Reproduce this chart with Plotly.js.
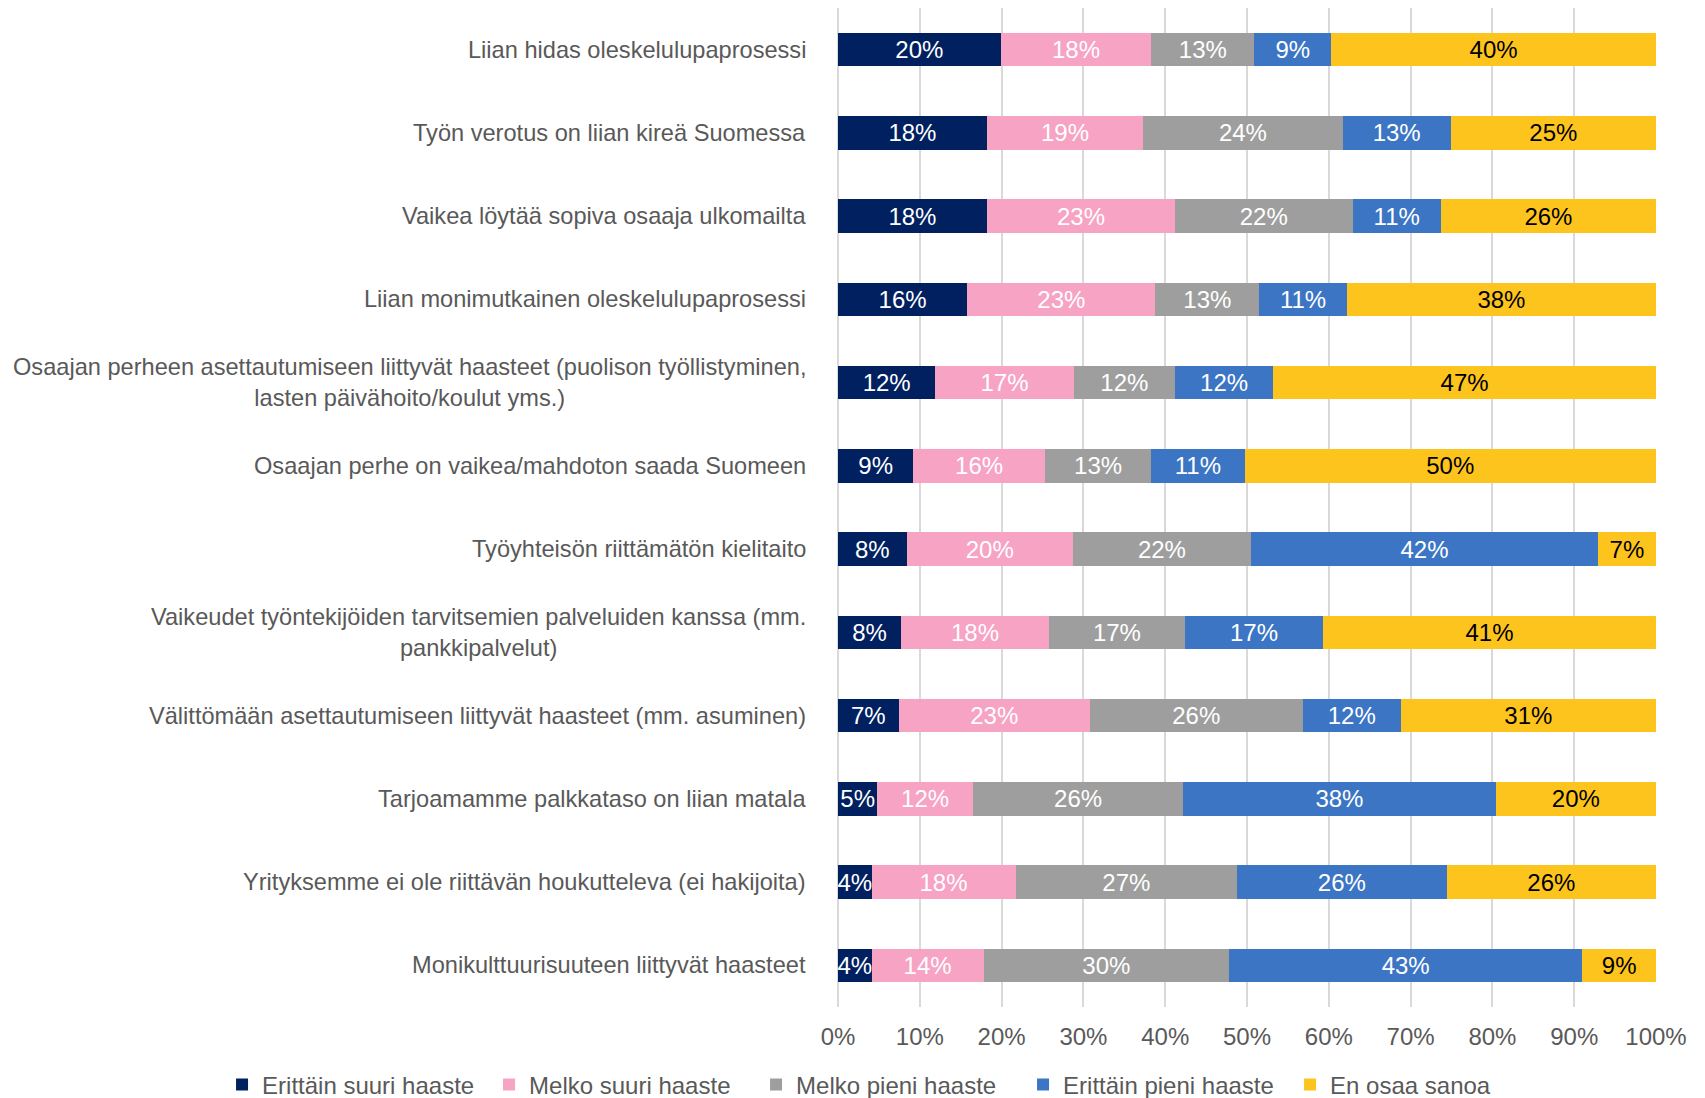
<!DOCTYPE html>
<html>
<head>
<meta charset="utf-8">
<script src="https://cdn.plot.ly/plotly-3.0.1.min.js"></script>
<style>
  html, body { margin: 0; padding: 0; background: #ffffff; }
  #chart { width: 1705px; height: 1098px; }
</style>
</head>
<body>
<div id="chart"></div>
<script>
// Categories, top to bottom
const categories = [
  "Liian hidas oleskelulupaprosessi",
  "Työn verotus on liian kireä Suomessa",
  "Vaikea löytää sopiva osaaja ulkomailta",
  "Liian monimutkainen oleskelulupaprosessi",
  "Osaajan perheen asettautumiseen liittyvät haasteet (puolison työllistyminen,<br>lasten päivähoito/koulut yms.)",
  "Osaajan perhe on vaikea/mahdoton saada Suomeen",
  "Työyhteisön riittämätön kielitaito",
  "Vaikeudet työntekijöiden tarvitsemien palveluiden kanssa (mm.<br>pankkipalvelut)",
  "Välittömään asettautumiseen liittyvät haasteet (mm. asuminen)",
  "Tarjoamamme palkkataso on liian matala",
  "Yrityksemme ei ole riittävän houkutteleva (ei hakijoita)",
  "Monikulttuurisuuteen liittyvät haasteet"
];

const seriesNames = ["Erittäin suuri haaste", "Melko suuri haaste", "Melko pieni haaste", "Erittäin pieni haaste", "En osaa sanoa"];

const erittainSuuri = [19.9, 18.2, 18.2, 15.8, 11.9, 9.2, 8.4, 7.7, 7.4, 4.8, 4.1, 4.1];
const melkoSuuri    = [18.4, 19.1, 23.0, 23.0, 16.9, 16.1, 20.3, 18.1, 23.4, 11.7, 17.6, 13.7];
const melkoPieni    = [12.6, 24.4, 21.7, 12.7, 12.4, 13.0, 21.8, 16.6, 26.0, 25.7, 27.1, 30.0];
const erittainPieni = [9.4, 13.2, 10.8, 10.7, 12.0, 11.4, 42.4, 16.9, 12.0, 38.2, 25.6, 43.2];
const enOsaa        = [39.7, 25.1, 26.3, 37.8, 46.8, 50.3, 7.1, 40.7, 31.2, 19.6, 25.6, 9.0];

const xTickVals = [0, 10, 20, 30, 40, 50, 60, 70, 80, 90, 100];

const colors = ["#002060", "#F7A3C3", "#9E9E9E", "#3B75C4", "#FEC41E"];
const labelColors = ["#ffffff", "#ffffff", "#ffffff", "#ffffff", "#000000"];
const seriesValues = [erittainSuuri, melkoSuuri, melkoPieni, erittainPieni, enOsaa];

const FONT = '"Liberation Sans", Arial, sans-serif';

const traces = seriesValues.map((vals, i) => ({
  type: 'bar',
  orientation: 'h',
  name: seriesNames[i],
  x: vals,
  y: categories,
  marker: { color: colors[i], line: { width: 0 } },
  texttemplate: '%{x:.0f}%',
  textposition: 'inside',
  insidetextanchor: 'middle',
  constraintext: 'none',
  textangle: 0,
  insidetextfont: { family: FONT, size: 24, color: labelColors[i] },
  hoverinfo: 'skip'
}));

const annotations = categories.map(c => ({
  x: 0, xref: 'paper', xanchor: 'right', xshift: -30,
  y: c, yref: 'y', yanchor: 'middle',
  text: c, align: 'center', showarrow: false,
  font: { family: FONT, size: 23.6, color: '#595959' }
}));

const layout = {
  width: 1705,
  height: 1098,
  paper_bgcolor: '#ffffff',
  plot_bgcolor: '#ffffff',
  barmode: 'stack',
  bargap: 0.595,
  margin: { l: 838, r: 49, t: 8, b: 91, autoexpand: false },
  font: { family: FONT, size: 24, color: '#595959' },
  xaxis: {
    range: [0, 100],
    tickvals: xTickVals,
    ticktext: xTickVals.map(v => v + '%'),
    showgrid: true,
    gridcolor: '#D9D9D9',
    gridwidth: 2,
    zeroline: true,
    zerolinecolor: '#D9D9D9',
    zerolinewidth: 2,
    showline: false,
    ticks: '',
    ticklabelstandoff: 13,
    tickfont: { family: FONT, size: 24, color: '#595959' },
    fixedrange: true
  },
  yaxis: {
    autorange: 'reversed',
    showticklabels: false,
    showgrid: false,
    zeroline: false,
    showline: false,
    ticks: '',
    fixedrange: true
  },
  showlegend: true,
  legend: {
    orientation: 'h',
    x: -0.753,
    xanchor: 'left',
    y: -0.078,
    yanchor: 'middle',
    traceorder: 'normal',
    font: { family: FONT, size: 24, color: '#595959' },
    entrywidth: 222,
    entrywidthmode: 'pixels',
    itemclick: false,
    itemdoubleclick: false
  },
  annotations: annotations
};

Plotly.newPlot('chart', traces, layout, { displayModeBar: false, staticPlot: true });
</script>
</body>
</html>
